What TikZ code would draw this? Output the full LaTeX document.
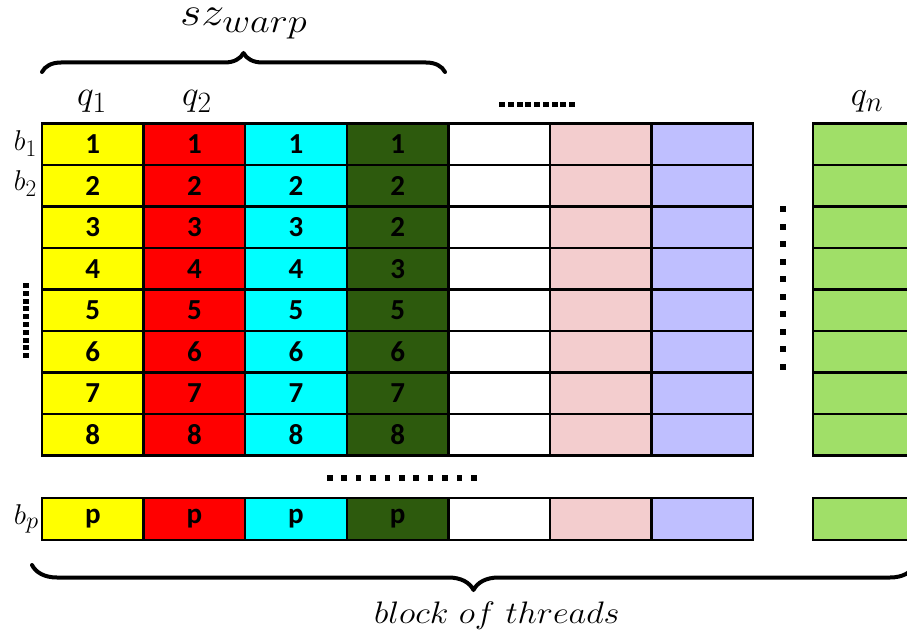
\documentclass[tikz,border=0pt]{standalone}
\usepackage{fontspec}
\usepackage{graphicx}
\newfontfamily\numfont{Carlito}
\usetikzlibrary{decorations.pathreplacing}
\definecolor{cyel}{RGB}{255,255,0}
\definecolor{cred}{RGB}{255,0,0}
\definecolor{ccyan}{RGB}{0,255,255}
\definecolor{cdgreen}{RGB}{45,90,13}
\definecolor{cpink}{RGB}{243,205,206}
\definecolor{clav}{RGB}{191,191,255}
\definecolor{clgreen}{RGB}{160,223,104}
\begin{document}
\begin{tikzpicture}[x=1pt,y=-1pt,
  cell/.style={draw=black, line width=2.5pt, minimum width=101.6pt, minimum height=41.5pt,
    inner sep=0pt, outer sep=0pt, anchor=north west,
    font=\numfont\bfseries\fontsize{29}{29}\selectfont},
  mlabel/.style={inner sep=0pt, font=\Huge},
  bracestyle/.style={decorate, line width=4pt, line cap=round, line join=round},
  dotmark/.style={fill=black}]
\useasboundingbox (0,0) rectangle (907,639);
\clip (0,0) rectangle (907,639);
% main grid
\foreach \fc [count=\j from 0] in {cyel,cred,ccyan}{
  \foreach \r [evaluate=\r as \n using int(\r+1)] in {0,...,7}{
    \node[cell, fill=\fc] (c-\j-\r) at ({42+101.6*\j},{123.5+41.5*\r}) {\n};
  }
}
\foreach \n [count=\r from 0] in {1,2,2,3,5,6,7,8}{
  \node[cell, fill=cdgreen] (c-3-\r) at ({42+101.6*3},{123.5+41.5*(\r)}) {\n};
}
\foreach \fc [count=\j from 4] in {white,cpink,clav}{
  \foreach \r in {0,...,7}{
    \node[cell, fill=\fc] (c-\j-\r) at ({42+101.6*\j},{123.5+41.5*\r}) {};
  }
}
\foreach \r in {0,...,7}{
  \node[cell, fill=clgreen] (g-\r) at (813,{123.5+41.5*\r}) {};
}
% bottom row b_p
\foreach \fc [count=\j from 0] in {cyel,cred,ccyan,cdgreen}{
  \node[cell, fill=\fc, minimum height=42pt] (p-\j) at ({42+101.6*\j},498) {p};
}
\foreach \fc [count=\j from 4] in {white,cpink,clav}{
  \node[cell, fill=\fc, minimum height=42pt] (p-\j) at ({42+101.6*\j},498) {};
}
\node[cell, fill=clgreen, minimum height=42pt] (pg) at (813,498) {};
% labels
\node[mlabel, anchor=base] (q1) at (92,106) {\scalebox{1.42}{$q_1$}};
\node[mlabel, anchor=base] (q2) at (197,106) {\scalebox{1.42}{$q_2$}};
\node[mlabel, anchor=base] (qn) at (867,106) {\scalebox{1.38}{$q_n$}};
\node[mlabel, anchor=base east] (b1) at (37,151) {\scalebox{1.12}[1.15]{$b_1$}};
\node[mlabel, anchor=base east] (b2) at (37,191) {\scalebox{1.12}[1.15]{$b_2$}};
\node[mlabel, anchor=base east] (bp) at (39,524) {\scalebox{1.18}[1.15]{$b_p$}};
\node[mlabel, anchor=base] (sz) at (244,26) {\scalebox{1.85}[1.62]{$sz_{warp}$}};
\node[mlabel, anchor=base] (bt) at (497,623) {\scalebox{1.38}[1.25]{$block\ of\ threads$}};
% braces
\coordinate (tb1) at (42,72);
\coordinate (tb2) at (445,72);
\draw[bracestyle, decoration={brace, amplitude=19pt}] (tb1) -- (tb2);
\coordinate (bb1) at (32,565);
\coordinate (bb2) at (915,565);
\draw[bracestyle, decoration={brace, amplitude=25pt, mirror}] (bb1) -- (bb2);
% dots
\foreach \k in {0,...,8}{\fill[dotmark] ({499+8.75*\k},102) rectangle ++(6,5.5);}
\foreach \k in {0,...,10}{\fill[dotmark] ({327+14.4*\k},475) rectangle ++(5.5,6);}
\foreach \k in {0,...,9}{\fill[dotmark] (23,{283+7.8*\k}) rectangle ++(5.5,5);}
\foreach \k in {0,...,9}{\fill[dotmark] (780,{206+17.5*\k}) rectangle ++(6,6);}
\end{tikzpicture}
\end{document}
